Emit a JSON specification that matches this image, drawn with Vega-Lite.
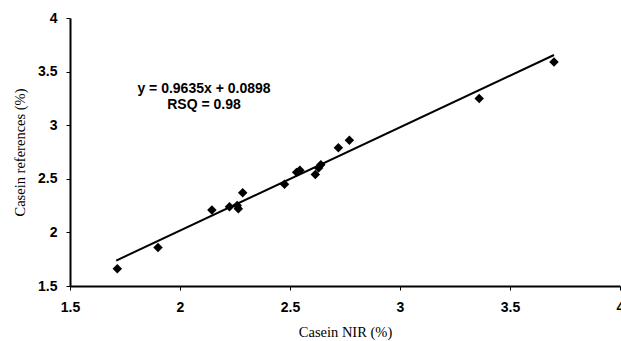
{
  "$schema": "https://vega.github.io/schema/vega-lite/v6.json",
  "width": 550,
  "height": 268,
  "autosize": {"type": "none"},
  "padding": {"left": 70, "top": 18, "right": 1, "bottom": 55},
  "background": "white",
  "config": {
    "view": {"stroke": null},
    "axis": {
      "domainColor": "black",
      "domainWidth": 2,
      "tickColor": "black",
      "tickWidth": 1,
      "tickSize": 4,
      "grid": false,
      "labelFont": "Liberation Sans",
      "labelFontSize": 14,
      "labelFontWeight": "bold",
      "labelColor": "black",
      "titleFont": "Liberation Serif",
      "titleFontSize": 14.5,
      "titleFontWeight": "normal",
      "titleColor": "black"
    }
  },
  "datasets": {
    "points": [
      {"nir": 1.715, "ref": 1.66},
      {"nir": 1.90, "ref": 1.86},
      {"nir": 2.145, "ref": 2.21},
      {"nir": 2.225, "ref": 2.24},
      {"nir": 2.26, "ref": 2.25},
      {"nir": 2.265, "ref": 2.22},
      {"nir": 2.285, "ref": 2.37},
      {"nir": 2.475, "ref": 2.45},
      {"nir": 2.53, "ref": 2.56},
      {"nir": 2.545, "ref": 2.58},
      {"nir": 2.615, "ref": 2.54},
      {"nir": 2.63, "ref": 2.60},
      {"nir": 2.64, "ref": 2.63},
      {"nir": 2.72, "ref": 2.79},
      {"nir": 2.77, "ref": 2.86},
      {"nir": 3.36, "ref": 3.25},
      {"nir": 3.70, "ref": 3.59}
    ],
    "fit": [
      {"nir": 1.71, "ref": 1.7374},
      {"nir": 3.70, "ref": 3.6548}
    ],
    "notes": [
      {"nir": 2.109, "ref": 3.338, "label": "y = 0.9635x + 0.0898"},
      {"nir": 2.109, "ref": 3.19, "label": "RSQ = 0.98"}
    ]
  },
  "layer": [
    {
      "mark": {"type": "rule", "color": "black", "strokeWidth": 1.5},
      "encoding": {"y": {"datum": 4, "scale": {"domain": [1.5, 4], "nice": false, "zero": false}}}
    },
    {
      "mark": {"type": "rule", "color": "#aaaaaa", "strokeWidth": 1, "strokeDash": [3, 2]},
      "encoding": {"x": {"datum": 4, "scale": {"domain": [1.5, 4], "nice": false, "zero": false}}}
    },
    {
      "data": {"name": "fit"},
      "mark": {"type": "line", "color": "black", "strokeWidth": 2},
      "encoding": {
        "x": {"field": "nir", "type": "quantitative"},
        "y": {"field": "ref", "type": "quantitative"}
      }
    },
    {
      "data": {"name": "points"},
      "mark": {"type": "point", "shape": "diamond", "filled": true, "color": "black", "opacity": 1, "size": 90},
      "encoding": {
        "x": {
          "field": "nir", "type": "quantitative",
          "scale": {"domain": [1.5, 4], "nice": false, "zero": false},
          "axis": {"title": "Casein NIR (%)", "values": [1.5, 2, 2.5, 3, 3.5, 4], "format": "~g", "labelPadding": 10, "titlePadding": 11, "labelFlush": false}
        },
        "y": {
          "field": "ref", "type": "quantitative",
          "scale": {"domain": [1.5, 4], "nice": false, "zero": false},
          "axis": {"title": "Casein references (%)", "values": [1.5, 2, 2.5, 3, 3.5, 4], "format": "~g", "labelPadding": 9, "titlePadding": 10}
        }
      }
    },
    {
      "data": {"name": "notes"},
      "mark": {"type": "text", "font": "Liberation Sans", "fontSize": 14, "fontWeight": "bold", "color": "black", "align": "center", "baseline": "middle"},
      "encoding": {
        "x": {"field": "nir", "type": "quantitative"},
        "y": {"field": "ref", "type": "quantitative"},
        "text": {"field": "label"}
      }
    }
  ]
}
